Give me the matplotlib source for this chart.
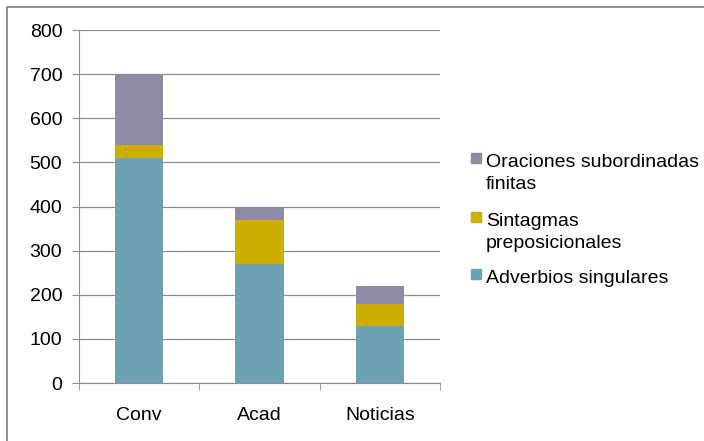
import matplotlib.pyplot as plt
import numpy as np
from matplotlib.patches import Rectangle

categories = ['Conv', 'Acad', 'Noticias']
adverbios = [510, 270, 130]
sintagmas = [30, 100, 50]
oraciones = [160, 30, 40]
labels = ['Adverbios singulares', 'Sintagmas\npreposicionales', 'Oraciones subordinadas\nfinitas']
colors = ['#6ca2b3', '#ccad00', '#8f8ba5']

plt.rcParams['font.family'] = ['Liberation Sans', 'DejaVu Sans']

W, H = 704, 441
fig = plt.figure(figsize=(W / 100, H / 100), dpi=100)
ax = fig.add_axes([79 / W, 1 - 383 / H, (440 - 79) / W, (383 - 30) / H])

x = np.arange(len(categories))
bottom = np.zeros(len(categories))
for vals, lab, col in zip([adverbios, sintagmas, oraciones], labels, colors):
    ax.bar(x, vals, 0.4, bottom=bottom, color=col, label=lab, zorder=3)
    bottom += np.array(vals)

ax.set_xlim(-0.5, 2.5)
ax.set_ylim(0, 800)
ax.set_yticks(range(0, 801, 100))
ax.yaxis.grid(True, color='#8c8c8c', linewidth=0.9, zorder=0)
ax.set_axisbelow(True)
for s in ['top', 'right']:
    ax.spines[s].set_visible(False)
for s in ['left', 'bottom']:
    ax.spines[s].set_color('#8c8c8c')
ax.tick_params(axis='y', length=5, color='#8c8c8c', labelsize=14, pad=7)
ax.set_xticks(x)
ax.set_xticklabels(categories, fontsize=14)
ax.tick_params(axis='x', length=0, pad=17)
ax.set_xticks([-0.5, 0.5, 1.5, 2.5], minor=True)
ax.tick_params(axis='x', which='minor', length=5, color='#8c8c8c')

# legend drawn by hand so the swatch sits on the first text line
leg_tops = [269, 212, 153]   # swatch top (px) for each series
for lab, col, ty in zip(labels, colors, leg_tops):
    fig.patches.append(Rectangle((471 / W, 1 - (ty + 10) / H), 10 / W, 10 / H,
                                 transform=fig.transFigure, color=col))
    fig.text(486 / W, 1 - (ty + 1) / H, lab, fontsize=14, va='top', ha='left',
             linespacing=1.4)

fig.patches.append(Rectangle((7 / W, -0.1), 1.2, 1 - 7 / H + 0.1,
                             transform=fig.transFigure, fill=False,
                             edgecolor='#7f7f7f', linewidth=1.2))

fig.savefig('out.png', dpi=100)
